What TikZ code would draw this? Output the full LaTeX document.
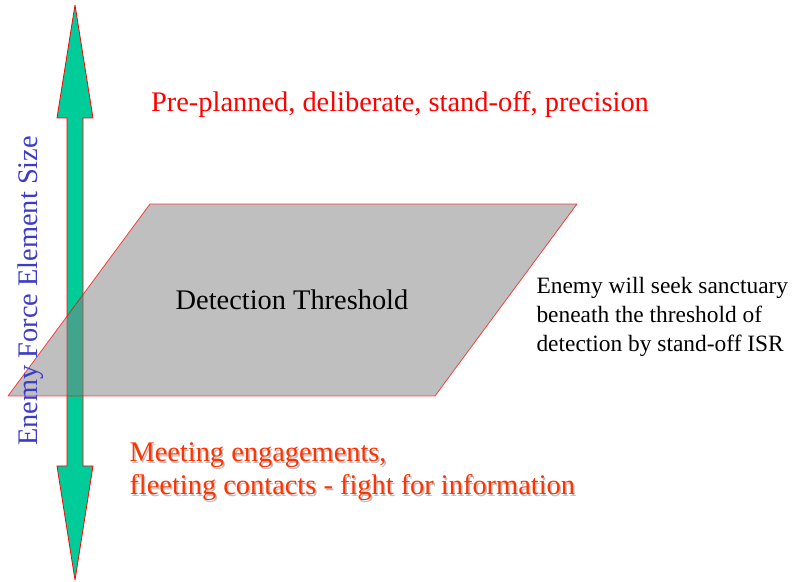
\documentclass[tikz,border=0pt]{standalone}
\usepackage{fontspec}
\setmainfont{Liberation Serif}
\definecolor{arrowgreen}{RGB}{0,204,153}
\definecolor{sizeblue}{RGB}{60,60,200}
\definecolor{meetred}{RGB}{255,51,0}
\tikzset{
  bigtext/.style={font=\rmfamily\fontsize{28.5}{33}\selectfont},
  smalltext/.style={font=\rmfamily\fontsize{23.5}{29}\selectfont},
}
\begin{document}
\begin{tikzpicture}[>=latex,line join=bevel,]
%%
\useasboundingbox (0bp,0bp) rectangle (794bp,582bp);
\path [draw=red,line width=0.8bp,fill=arrowgreen] (75bp,577bp) -- (93bp,464bp) -- (83bp,464bp) -- (83bp,116bp) -- (93bp,116bp) -- (75bp,2bp) -- (57bp,116bp) -- (67bp,116bp) -- (67bp,464bp) -- (57bp,464bp) -- cycle;
\path [draw=red,draw opacity=0.7,line width=0.8bp,fill=black!50,fill opacity=0.5] (150bp,378bp) -- (577bp,378bp) -- (435bp,186bp) -- (8bp,186bp) -- cycle;
%
\node (node_0) at (400bp,477bp) [bigtext,text=red] {Pre-planned, deliberate, stand-off, precision};
  \node (node_1) at (292bp,282bp) [bigtext] {Detection Threshold};
  \node (node_2) at (533bp,265bp) [smalltext,anchor=west,align=left] {Enemy will seek sanctuary\\beneath the threshold of\\detection by stand-off ISR};
  \node (node_3s) at (127.5bp,108.5bp) [bigtext,anchor=west,align=left,text=black!25] {Meeting engagements,\\fleeting contacts - fight for information};
  \node (node_3) at (126bp,110bp) [bigtext,anchor=west,align=left,text=meetred] {Meeting engagements,\\fleeting contacts - fight for information};
  \node (node_4) at (31bp,291bp) [bigtext,rotate=90,text=sizeblue] {Enemy Force Element Size};
%
\end{tikzpicture}
\end{document}
